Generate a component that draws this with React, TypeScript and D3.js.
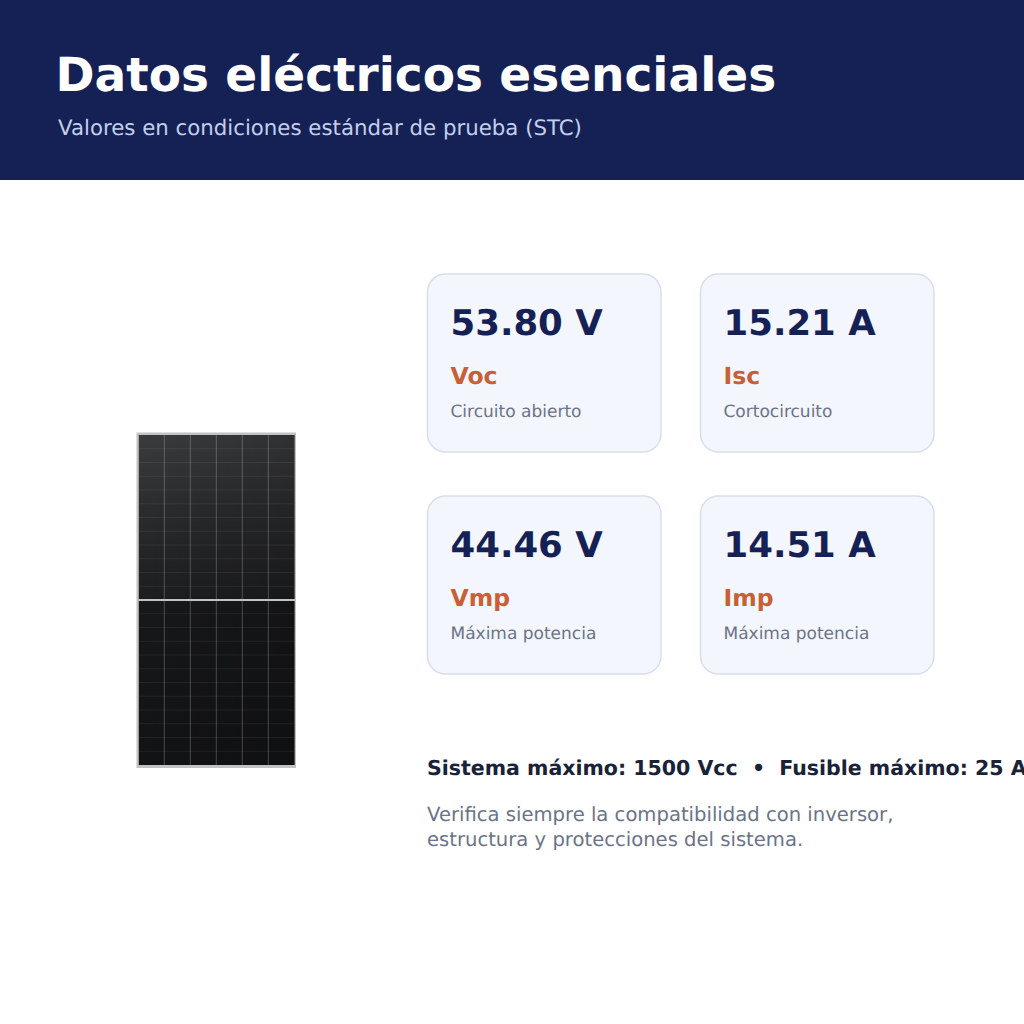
import * as d3 from "d3"

const title = "Datos eléctricos esenciales"
const subtitle = "Valores en condiciones estándar de prueba (STC)"

const cardValues = ["53.80 V", "15.21 A", "44.46 V", "14.51 A"]
const cardSymbols = ["Voc", "Isc", "Vmp", "Imp"]
const cardNotes = ["Circuito abierto", "Cortocircuito", "Máxima potencia", "Máxima potencia"]

const limitsLine = "Sistema máximo: 1500 Vcc  •  Fusible máximo: 25 A"
const noteLines = [
  "Verifica siempre la compatibilidad con inversor,",
  "estructura y protecciones del sistema.",
]

const panelColumns = 6
const panelRows = 24

const font = "'DejaVu Sans', sans-serif"

const xCol = d3.scaleLinear().domain([0, panelColumns]).range([138.3, 294.3])
const yRow = d3.scaleLinear().domain([0, panelRows]).range([435, 765])
const stops = [0, 0.25, 0.49, 0.51, 1]
const shade = d3
  .scaleLinear<string>()
  .domain(stops)
  .range(["#3a3b3c", "#2a2b2d", "#1e1f21", "#18191b", "#131415"])

export default function App() {
  const cols = d3.range(1, panelColumns)
  const rows = d3.range(1, panelRows).filter((r) => r !== panelRows / 2)

  return (
    <svg
      width={1024}
      height={1024}
      style={{ position: "absolute", left: 0, top: 0, background: "#fff" }}
      fontFamily={font}
      textRendering="geometricPrecision"
    >
      <defs>
        <linearGradient id="panelFill" x1="0" y1="0" x2="0" y2="1">
          {stops.map((t) => (
            <stop key={t} offset={t} stopColor={shade(t)} />
          ))}
        </linearGradient>
        <linearGradient id="panelSide" x1="0" y1="0" x2="1" y2="0.35">
          <stop offset={0} stopColor="#000" stopOpacity={0} />
          <stop offset={1} stopColor="#000" stopOpacity={0.2} />
        </linearGradient>
      </defs>

      <rect x={0} y={0} width={1024} height={180} fill="#152154" />
      <text x={55.5} y={91} fontSize={47} fontWeight="bold" fill="#fff">
        {title}
      </text>
      <text x={58} y={135} fontSize={21.3} fill="#c3cfee">
        {subtitle}
      </text>

      {/* panel */}
      <rect x={136.5} y={432.5} width={159.5} height={335.5} fill="#c0c2c4" />
      <rect x={138.8} y={435} width={155.8} height={330} fill="url(#panelFill)" />
      <rect x={138.8} y={435} width={155.8} height={330} fill="url(#panelSide)" />
      {cols.map((c) => (
        <line key={c} x1={xCol(c)} x2={xCol(c)} y1={435} y2={765} stroke="#fff" strokeOpacity={0.26} strokeWidth={0.9} />
      ))}
      {rows.map((r) => (
        <line key={r} x1={138.8} x2={294.6} y1={yRow(r)} y2={yRow(r)} stroke="#fff" strokeOpacity={0.08} strokeWidth={0.9} />
      ))}
      <line x1={137} x2={295.5} y1={yRow(panelRows / 2)} y2={yRow(panelRows / 2)} stroke="#c0c2c4" strokeWidth={2} />

      {/* cards */}
      {cardValues.map((v, i) => {
        const x = i % 2 === 0 ? 427.5 : 700.5
        const y = i < 2 ? 274 : 496
        return (
          <g key={v} transform={`translate(${x},${y})`}>
            <rect width={233.5} height={178} rx={18} fill="#f3f6fc" stroke="#d9deea" strokeWidth={1.5} />
            <text x={23} y={61} fontSize={35.5} fontWeight="bold" fill="#152154">
              {v}
            </text>
            <text x={23} y={110} fontSize={23.5} fontWeight="bold" fill="#c95f36">
              {cardSymbols[i]}
            </text>
            <text x={23} y={143} fontSize={17} fill="#6b7388">
              {cardNotes[i]}
            </text>
          </g>
        )
      })}

      <text x={427} y={775} fontSize={20.5} fontWeight="bold" fill="#1a2238" xmlSpace="preserve">
        {limitsLine}
      </text>
      {noteLines.map((l, i) => (
        <text key={l} x={427} y={821 + i * 25} fontSize={19.6} fill="#6b7388">
          {l}
        </text>
      ))}
    </svg>
  )
}
